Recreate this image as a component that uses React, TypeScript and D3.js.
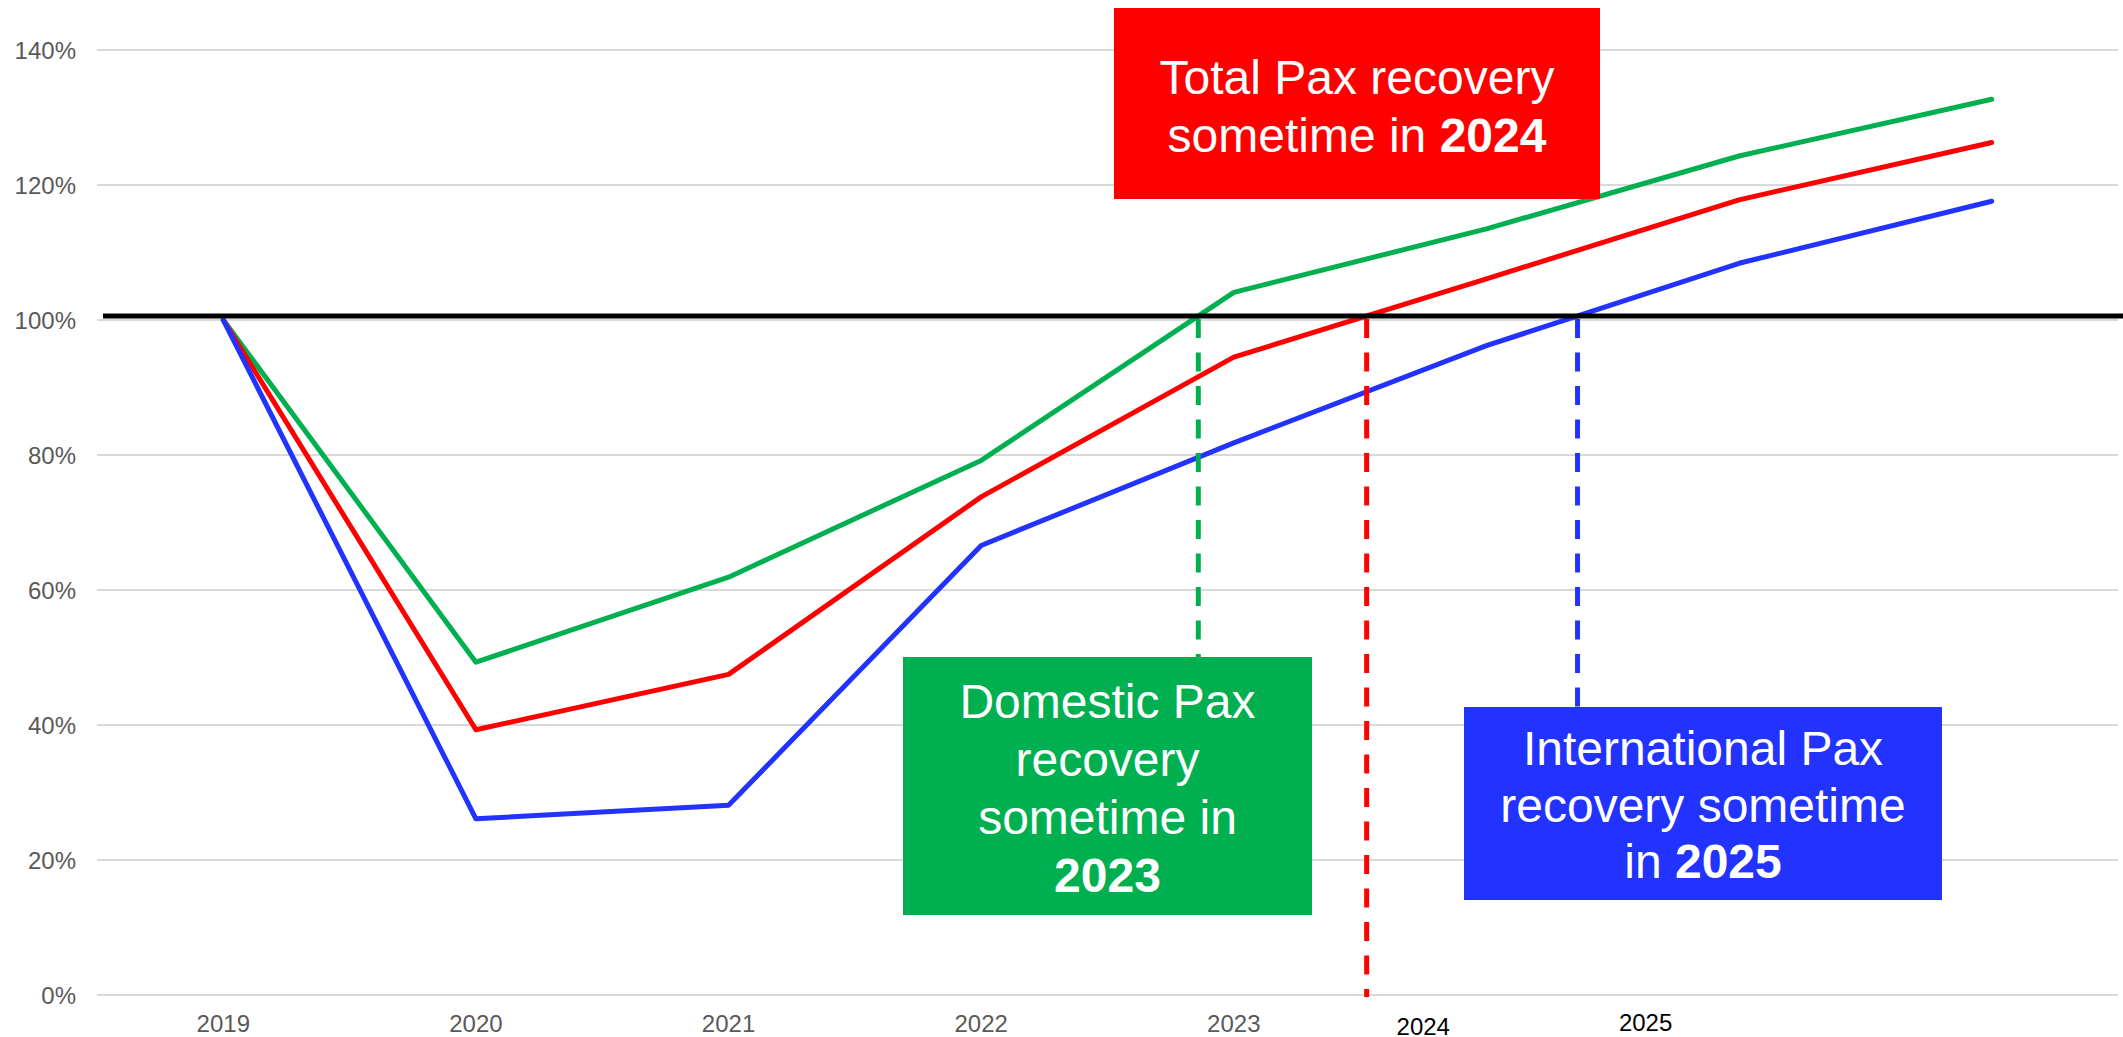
import React from "react";
import * as d3 from "d3";

// ---- data ----
const periods = ["2019", "2020", "2021", "2022", "2023", "2024", "2025", "2026"];
const axisLabels = ["2019", "2020", "2021", "2022", "2023"];
const domesticPax = [100, 49.3, 61.9, 79.2, 104.1, 113.5, 124.3, 132.7];
const totalPax = [100, 39.3, 47.5, 73.8, 94.5, 106.1, 117.8, 126.3];
const internationalPax = [100, 26.1, 28.1, 66.6, 81.8, 96.2, 108.4, 117.6];
const yTicks = [0, 20, 40, 60, 80, 100, 120, 140];
const recoveryLevel = 100.6;
const yearMarkers = [
  { label: "2024", pos: 4.75, value: -5.9 },
  { label: "2025", pos: 5.63, value: -5.3 },
];

const GREEN = "#00B050";
const RED = "#FF0000";
const BLUE = "#2233FF";

const W = 2123;
const H = 1037;
const plotLeft = 97;
const plotRight = 2118;

const x = d3.scaleLinear().domain([-0.5, periods.length - 0.5]).range([plotLeft, plotRight]);
const y = d3.scaleLinear().domain([0, 140]).range([995, 50]);

const line = d3
  .line<number>()
  .x((_, i) => x(i))
  .y((d) => y(d));

function crossing(values: number[], level: number): number {
  for (let i = 1; i < values.length; i++) {
    const a = values[i - 1];
    const b = values[i];
    if ((a - level) * (b - level) < 0) {
      return i - 1 + (level - a) / (b - a);
    }
  }
  return 0;
}

const series = [
  { name: "Domestic", values: domesticPax, color: GREEN, dashEnd: 657 },
  { name: "Total", values: totalPax, color: RED, dashEnd: 997 },
  { name: "International", values: internationalPax, color: BLUE, dashEnd: 707 },
];

const FONT = "'Liberation Sans', Arial, Helvetica, sans-serif";

export default function App() {
  return (
    <svg
      width={W}
      height={H}
      style={{ position: "absolute", left: 0, top: 0, background: "#fff" }}
      fontFamily={FONT}
    >
      <rect x={0} y={0} width={W} height={H} fill="#fff" />
      {/* gridlines */}
      {yTicks.map((t) => (
        <g key={t}>
          <line x1={plotLeft} x2={plotRight} y1={y(t)} y2={y(t)} stroke="#d9d9d9" strokeWidth={2} />
          <text x={76} y={y(t)} dy="0.36em" textAnchor="end" fontSize={24} fill="#595959">
            {t}%
          </text>
        </g>
      ))}
      {/* x axis labels */}
      {axisLabels.map((lab, i) => (
        <text key={lab} x={x(i)} y={1032} textAnchor="middle" fontSize={24} fill="#595959">
          {lab}
        </text>
      ))}
      {yearMarkers.map((m) => (
        <text key={m.label} x={x(m.pos)} y={y(m.value)} textAnchor="middle" fontSize={24} fill="#000">
          {m.label}
        </text>
      ))}
      {/* series lines */}
      {series.map((s) => (
        <path
          key={s.name}
          d={line(s.values) || ""}
          fill="none"
          stroke={s.color}
          strokeWidth={5}
          strokeLinejoin="round"
          strokeLinecap="round"
        />
      ))}
      {/* 100% line */}
      <line
        x1={103}
        x2={W}
        y1={y(recoveryLevel)}
        y2={y(recoveryLevel)}
        stroke="#000"
        strokeWidth={5}
      />
      {/* recovery dashed lines */}
      {series.map((s) => {
        const cx = x(crossing(s.values, recoveryLevel));
        return (
          <line
            key={s.name + "-dash"}
            x1={cx}
            x2={cx}
            y1={y(recoveryLevel) + 3}
            y2={s.dashEnd}
            stroke={s.color}
            strokeWidth={5}
            strokeDasharray="19 14.5"
          />
        );
      })}
      {/* annotation boxes */}
      <g>
        <rect x={1114} y={8} width={486} height={191} fill={RED} />
        <text x={1357} textAnchor="middle" fontSize={48} fill="#fff">
          <tspan x={1357} y={94}>Total Pax recovery</tspan>
          <tspan x={1357} y={152}>
            sometime in <tspan fontWeight="bold">2024</tspan>
          </tspan>
        </text>
      </g>
      <g>
        <rect x={903} y={657} width={409} height={258} fill={GREEN} />
        <text textAnchor="middle" fontSize={48} fill="#fff">
          <tspan x={1107.5} y={718}>Domestic Pax</tspan>
          <tspan x={1107.5} y={776}>recovery</tspan>
          <tspan x={1107.5} y={834}>sometime in</tspan>
          <tspan x={1107.5} y={892} fontWeight="bold">2023</tspan>
        </text>
      </g>
      <g>
        <rect x={1464} y={707} width={478} height={193} fill={BLUE} />
        <text textAnchor="middle" fontSize={48} fill="#fff">
          <tspan x={1703} y={765}>International Pax</tspan>
          <tspan x={1703} y={822}>recovery sometime</tspan>
          <tspan x={1703} y={878}>
            in <tspan fontWeight="bold">2025</tspan>
          </tspan>
        </text>
      </g>
    </svg>
  );
}
